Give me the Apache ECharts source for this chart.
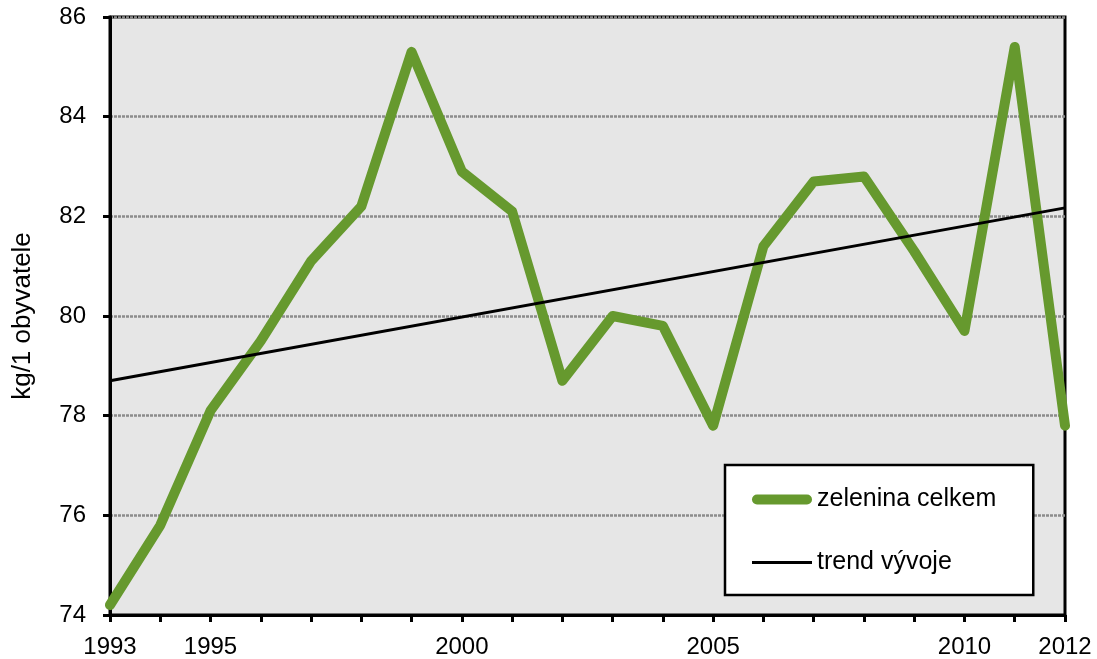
<!DOCTYPE html>
<html>
<head>
<meta charset="utf-8">
<script src="https://cdn.jsdelivr.net/npm/echarts@6/dist/echarts.min.js"></script>
<style>
html, body { margin: 0; padding: 0; background: #fff; }
#main { width: 1097px; height: 659px; }
</style>
</head>
<body>
<div id="main"></div>
<script>
let years = ['1993','1994','1995','1996','1997','1998','1999','2000','2001','2002',
	'2003','2004','2005','2006','2007','2008','2009','2010','2011','2012'];
let shownYears = ['1993','1995','2000','2005','2010','2012'];
let zelenina = [74.2, 75.8, 78.1, 79.5, 81.1, 82.2, 85.3, 82.9, 82.1, 78.7,
	80.0, 79.8, 77.8, 81.4, 82.7, 82.8, 81.3, 79.7, 85.4, 77.8];
// trend read at both ends of the chart
let trendStart = 78.7;
let trendEnd = 82.17;

let trend = years.map(function(y, i){
	if (i === 0) return trendStart;
	if (i === years.length - 1) return trendEnd;
	return null;
});

let myChart = echarts.init(document.getElementById('main'));
let font = 'Liberation Sans, Arial, sans-serif';
let option = {
	animation: false,
	grid: {
		left: 110,
		right: 32,
		top: 17,
		bottom: 44,
		outerBoundsMode: 'none',
		containLabel: false,
		show: true,
		backgroundColor: '#e6e6e6',
		borderColor: '#000',
		borderWidth: 3
	},
	legend: {
		orient: 'vertical',
		left: 725,
		top: 465,
		padding: [22, 37, 20, 27],
		backgroundColor: '#fff',
		borderColor: '#000',
		borderWidth: 2.5,
		itemWidth: 60,
		itemHeight: 14,
		itemGap: 38,
		textStyle: { fontFamily: font, fontSize: 25, lineHeight: 24, color: '#000' },
		data: [
			{ name: 'zelenina celkem', icon: 'path://M5,0 H55 A5,5 0 0 1 55,10 H5 A5,5 0 0 1 5,0 Z', itemStyle: { color: '#66992e' } },
			{ name: 'trend vývoje', icon: 'path://M0,0 H60 V3 H0 Z', itemStyle: { color: '#000' } }
		]
	},
	xAxis: {
		type: 'category',
		boundaryGap: false,
		data: years,
		axisLine: { lineStyle: { color: '#000', width: 3 } },
		axisTick: { interval: 0, length: 7, lineStyle: { color: '#000', width: 3 } },
		axisLabel: {
			interval: 0,
			margin: 20,
			fontFamily: font,
			fontSize: 24,
			color: '#000',
			formatter: function(v){ return shownYears.indexOf(v) >= 0 ? v : ''; }
		},
		splitLine: { show: false }
	},
	yAxis: {
		type: 'value',
		min: 74,
		max: 86,
		interval: 2,
		name: 'kg/1 obyvatele',
		nameLocation: 'middle',
		nameGap: 74,
		nameTextStyle: { fontFamily: font, fontSize: 26, color: '#000' },
		axisLine: { show: true, lineStyle: { color: '#000', width: 3 } },
		axisTick: { show: true, length: 7, lineStyle: { color: '#000', width: 3 } },
		axisLabel: { margin: 24, fontFamily: font, fontSize: 24, color: '#000' },
		splitLine: { lineStyle: { color: '#8c8c8c', width: 2.5, type: [3, 1] } }
	},
	series: [
		{
			name: 'zelenina celkem',
			type: 'line',
			data: zelenina,
			symbol: 'none',
			itemStyle: { color: '#66992e' },
			lineStyle: { color: '#66992e', width: 10, cap: 'round', join: 'round' }
		},
		{
			name: 'trend vývoje',
			type: 'line',
			data: trend,
			connectNulls: true,
			symbol: 'none',
			itemStyle: { color: '#000' },
			lineStyle: { color: '#000', width: 3 }
		}
	]
};
myChart.setOption(option);
</script>
</body>
</html>
